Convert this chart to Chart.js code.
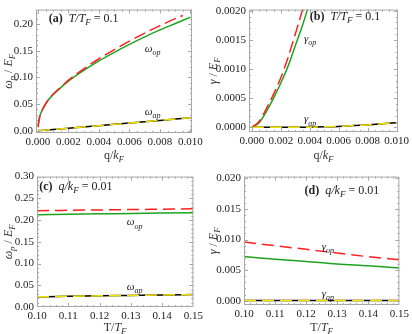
<!DOCTYPE html>
<html><head><meta charset="utf-8">
<script src="https://cdn.jsdelivr.net/npm/chart.js@4"></script>
<style>
html,body{margin:0;padding:0;background:#fff;width:412px;height:334px;overflow:hidden}
canvas{position:absolute}
</style></head><body>
<canvas id="ca" width="206" height="167" style="left:0;top:0"></canvas>
<canvas id="cb" width="206" height="167" style="left:206px;top:0"></canvas>
<canvas id="cc" width="206" height="167" style="left:0;top:167px"></canvas>
<canvas id="cd" width="206" height="167" style="left:206px;top:167px"></canvas>
<script>
// ---------- data ----------
// panel (a): omega_p/E_F vs q/k_F, T/T_F = 0.1
const qA        = [0, 0.0001, 0.0003, 0.0006, 0.001, 0.0015, 0.002, 0.003, 0.004, 0.005, 0.006, 0.007, 0.008, 0.009, 0.010];
const omegaOpA  = [0.007, 0.025, 0.040, 0.055, 0.068, 0.081, 0.093, 0.113, 0.131, 0.147, 0.162, 0.176, 0.189, 0.201, 0.213];
const qARed     = [0, 0.0001, 0.0003, 0.0006, 0.001, 0.0015, 0.002, 0.003, 0.004, 0.005, 0.006, 0.007, 0.008, 0.009, 0.0095];
const omegaOpARed = [0.007, 0.025, 0.040, 0.055, 0.069, 0.082, 0.095, 0.116, 0.135, 0.152, 0.168, 0.183, 0.197, 0.210, 0.216];
const qAAp      = [0, 0.002, 0.004, 0.006, 0.008, 0.010];
const omegaApA  = [0.0000, 0.0049, 0.0098, 0.0147, 0.0196, 0.0245];
// panel (b): gamma/E_F vs q/k_F, T/T_F = 0.1
const qB        = [0, 0.0005, 0.001, 0.0015, 0.002, 0.0025, 0.003, 0.0035, 0.004];
const gammaOpB  = [0, 0.00008, 0.00027, 0.0005, 0.00076, 0.00105, 0.0014, 0.00175, 0.00215];
const gammaOpBRed = [0, 0.0001, 0.00032, 0.00057, 0.00085, 0.0012, 0.0016, 0.00202, 0.0025];
const qBAp      = [0, 0.002, 0.004, 0.005, 0.006, 0.007, 0.008, 0.009, 0.010];
const gammaApB  = [0, 0, 0.000003, 0.000008, 0.000016, 0.00003, 0.000042, 0.00006, 0.00008];
// panels (c),(d): vs T/T_F, q/k_F = 0.01
const tT        = [0.10, 0.11, 0.12, 0.13, 0.14, 0.15];
const omegaOpC    = [0.2125, 0.2134, 0.2143, 0.2152, 0.2161, 0.2170];
const omegaOpCRed = [0.2215, 0.2224, 0.2233, 0.2242, 0.2250, 0.2258];
const omegaApC    = [0.0235, 0.0245, 0.0256, 0.0266, 0.0276, 0.0287];
const gammaOpD    = [0.00722, 0.0068, 0.00643, 0.0060, 0.0057, 0.00534];
const gammaOpDRed = [0.0096, 0.0090, 0.0084, 0.0078, 0.0072, 0.0067];
const gammaApD    = [0.00005, 0.00005, 0.00005, 0.00005, 0.00005, 0.00005];
// tick labels
const qTicks      = [0, 0.002, 0.004, 0.006, 0.008, 0.010];
const omegaTicksA = [0, 0.05, 0.10, 0.15, 0.20];
const gammaTicksB = [0, 0.0005, 0.0010, 0.0015, 0.0020];
const tTicks      = [0.10, 0.11, 0.12, 0.13, 0.14, 0.15];
const omegaTicksC = [0, 0.05, 0.10, 0.15, 0.20, 0.25, 0.30];
const gammaTicksD = [0, 0.005, 0.010, 0.015, 0.020];

// ---------- styling helpers ----------
const SERIF = '"Liberation Serif","DejaVu Serif",serif';
const GREEN = '#1fa31f', RED = '#ff1f1f', YELLOW = '#f2e200', BLACK = '#000000';
const pts = (xs, ys) => xs.map((x, i) => ({x, y: ys[i]}));

function fontFor(s, size) {
  if (s === 'b') return `bold ${size}px ${SERIF}`;
  if (s === 'i') return `italic ${size}px ${SERIF}`;
  if (s === 's') return `italic ${Math.round(size * 0.72)}px ${SERIF}`;
  return `${size}px ${SERIF}`;
}
function drawRich(ctx, parts, x, y, size, align) {
  let w = 0; const segs = [];
  for (const [t, s] of parts) {
    ctx.font = fontFor(s, size);
    const m = ctx.measureText(t).width;
    segs.push({t, f: ctx.font, m, dy: s === 's' ? size * 0.28 : 0});
    w += m;
  }
  let cx = align === 'center' ? x - w / 2 : (align === 'right' ? x - w : x);
  ctx.textAlign = 'left'; ctx.textBaseline = 'alphabetic';
  const base = y + size * 0.33;
  for (const g of segs) { ctx.font = g.f; ctx.fillText(g.t, cx, base + g.dy); cx += g.m; }
}

const framePlugin = {
  id: 'frame',
  afterDatasetsDraw(chart) {
    const o = chart.options.plugins.frame;
    const {ctx, chartArea: a, scales: {x, y}} = chart;
    ctx.save();
    ctx.strokeStyle = '#a8a8a8'; ctx.lineWidth = 1;
    ctx.strokeRect(a.left + 0.5, a.top + 0.5, a.right - a.left - 1, a.bottom - a.top - 1);
    ctx.beginPath();
    const xt = (v, len) => {
      const p = Math.round(x.getPixelForValue(v)) + 0.5;
      if (p < a.left || p > a.right) return;
      ctx.moveTo(p, a.bottom); ctx.lineTo(p, a.bottom - len);
      ctx.moveTo(p, a.top); ctx.lineTo(p, a.top + len);
    };
    const yt = (v, len) => {
      const p = Math.round(y.getPixelForValue(v)) + 0.5;
      if (p < a.top || p > a.bottom) return;
      ctx.moveTo(a.left, p); ctx.lineTo(a.left + len, p);
      ctx.moveTo(a.right, p); ctx.lineTo(a.right - len, p);
    };
    const xs = o.xticks, ys = o.yticks;
    const dx = (xs[1] - xs[0]) / o.xsub, dy = (ys[1] - ys[0]) / o.ysub;
    for (let i = -o.xsub; i <= (xs.length - 1) * o.xsub + o.xsub; i++) {
      const v = xs[0] + i * dx;
      xt(v, i % o.xsub === 0 ? 4 : 2);
    }
    for (let i = -o.ysub; i <= (ys.length - 1) * o.ysub + o.ysub; i++) {
      const v = ys[0] + i * dy;
      yt(v, i % o.ysub === 0 ? 4 : 2);
    }
    ctx.stroke();
    // annotations
    ctx.fillStyle = '#222';
    for (const L of o.labels) {
      drawRich(ctx, L.parts, x.getPixelForValue(L.x), y.getPixelForValue(L.y), L.size || 11, L.align || 'left');
    }
    // axis titles
    ctx.fillStyle = '#333';
    drawRich(ctx, o.xtitle, (a.left + a.right) / 2, o.xtitleY, 12, 'center');
    ctx.save();
    ctx.translate(o.ytitleX, (a.top + a.bottom) / 2);
    ctx.rotate(-Math.PI / 2);
    drawRich(ctx, o.ytitle, 0, 0, 12, 'center');
    ctx.restore();
    ctx.restore();
  }
};

function makeChart(id, c) {
  const tickFont = {family: SERIF, size: 11};
  return new Chart(document.getElementById(id), {
    type: 'line',
    data: {datasets: c.datasets},
    options: {
      responsive: false, animation: false, devicePixelRatio: 1,
      layout: {padding: {top: c.padTop, right: c.padRight, left: 0, bottom: 0}},
      elements: {point: {radius: 0}, line: {borderWidth: 1.5, cubicInterpolationMode: 'monotone'}},
      plugins: {legend: {display: false}, tooltip: {enabled: false},
        frame: {xticks: c.xticks, yticks: c.yticks, xsub: c.xsub, ysub: c.ysub, labels: c.labels,
                xtitle: c.xtitle, ytitle: c.ytitle, xtitleY: c.xtitleY, ytitleX: c.ytitleX}},
      scales: {
        x: {type: 'linear', min: c.xmin, max: c.xmax,
            afterFit: s => { s.height = c.xh; },
            afterBuildTicks: s => { s.ticks = c.xticks.map(v => ({value: v})); },
            ticks: {callback: v => v.toFixed(c.xdec), font: tickFont, color: '#222', padding: 3, maxRotation: 0, autoSkip: false},
            grid: {display: false, drawTicks: false}, border: {display: false}},
        y: {type: 'linear', min: c.ymin, max: c.ymax,
            afterFit: s => { s.width = c.yw; },
            afterBuildTicks: s => { s.ticks = c.yticks.map(v => ({value: v})); },
            ticks: {callback: v => v.toFixed(c.ydec), font: tickFont, color: '#222', padding: 3, autoSkip: false},
            grid: {display: false, drawTicks: false}, border: {display: false}}
      }
    },
    plugins: [framePlugin]
  });
}

const sub = (t) => [t, 's'];
const it = (t) => [t, 'i'];
const rm = (t) => [t, 'r'];
const bd = (t) => [t, 'b'];
const qTitle = [rm('q/'), it('k'), sub('F')];
const tTitle = [rm('T/'), it('T'), sub('F')];
const omegaTitle = [it('ω'), sub('p'), rm(' / '), it('E'), sub('F')];
const gammaTitle = [it('γ'), rm(' / '), it('E'), sub('F')];

// (a)
makeChart('ca', {
  padTop: 2, padRight: 13, xh: 34, yw: 36,
  xmin: -0.00013, xmax: 0.0101, ymin: -0.004, ymax: 0.227,
  xticks: qTicks, yticks: omegaTicksA, xdec: 3, ydec: 2, xsub: 4, ysub: 5,
  xtitleY: 155, ytitleX: 8, xtitle: qTitle, ytitle: omegaTitle,
  labels: [
    {x: 0.0007, y: 0.212, size: 12, parts: [bd('(a)'), rm('  '), it('T/T'), sub('F'), rm(' = 0.1')]},
    {x: 0.0070, y: 0.155, parts: [it('ω'), sub('op')]},
    {x: 0.0070, y: 0.037, parts: [it('ω'), sub('ap')]}
  ],
  datasets: [
    {data: pts(qAAp, omegaApA), borderColor: YELLOW, borderDash: [12, 6]},
    {data: pts(qAAp, omegaApA), borderColor: BLACK},
    {data: pts(qARed, omegaOpARed), borderColor: RED, borderDash: [12, 5]},
    {data: pts(qA, omegaOpA), borderColor: GREEN}
  ]
});
// (b)
makeChart('cb', {
  padTop: 2, padRight: 8, xh: 35, yw: 43,
  xmin: -0.0002, xmax: 0.0101, ymin: -0.00008, ymax: 0.00202,
  xticks: qTicks, yticks: gammaTicksB, xdec: 3, ydec: 4, xsub: 4, ysub: 5,
  xtitleY: 155, ytitleX: 7, xtitle: qTitle, ytitle: gammaTitle,
  labels: [
    {x: 0.0040, y: 0.00191, size: 12, parts: [bd('(b)'), rm('  '), it('T/T'), sub('F'), rm(' = 0.1')]},
    {x: 0.0036, y: 0.00152, parts: [it('γ'), sub('op')]},
    {x: 0.0036, y: 0.000146, parts: [it('γ'), sub('ap')]}
  ],
  datasets: [
    {data: pts(qBAp, gammaApB), borderColor: YELLOW, borderDash: [12, 6]},
    {data: pts(qBAp, gammaApB), borderColor: BLACK},
    {data: pts(qB, gammaOpBRed), borderColor: RED, borderDash: [12, 5]},
    {data: pts(qB, gammaOpB), borderColor: GREEN}
  ]
});
// (c)
makeChart('cc', {
  padTop: 4, padRight: 12, xh: 27, yw: 37,
  xmin: 0.10, xmax: 0.15, ymin: 0, ymax: 0.30,
  xticks: tTicks, yticks: omegaTicksC, xdec: 2, ydec: 2, xsub: 5, ysub: 5,
  xtitleY: 160, ytitleX: 8, xtitle: tTitle, ytitle: omegaTitle,
  labels: [
    {x: 0.1007, y: 0.278, size: 12, parts: [bd('(c)'), rm('  '), it('q/k'), sub('F'), rm(' = 0.01')]},
    {x: 0.1287, y: 0.196, parts: [it('ω'), sub('op')]},
    {x: 0.1287, y: 0.048, parts: [it('ω'), sub('ap')]}
  ],
  datasets: [
    {data: pts(tT, omegaApC), borderColor: YELLOW, borderDash: [12, 6]},
    {data: pts(tT, omegaApC), borderColor: BLACK},
    {data: pts(tT, omegaOpCRed), borderColor: RED, borderDash: [12, 6]},
    {data: pts(tT, omegaOpC), borderColor: GREEN}
  ]
});
// (d)
makeChart('cd', {
  padTop: 4, padRight: 8, xh: 29, yw: 38,
  xmin: 0.10, xmax: 0.15, ymin: -0.0007, ymax: 0.0203,
  xticks: tTicks, yticks: gammaTicksD, xdec: 2, ydec: 3, xsub: 5, ysub: 5,
  xtitleY: 160, ytitleX: 7, xtitle: tTitle, ytitle: gammaTitle,
  labels: [
    {x: 0.1195, y: 0.0181, size: 12, parts: [bd('(d)'), rm('  '), it('q/k'), sub('F'), rm(' = 0.01')]},
    {x: 0.125, y: 0.0089, parts: [it('γ'), sub('op')]},
    {x: 0.125, y: 0.0012, parts: [it('γ'), sub('ap')]}
  ],
  datasets: [
    {data: pts(tT, gammaApD), borderColor: YELLOW, borderDash: [12, 6]},
    {data: pts(tT, gammaApD), borderColor: BLACK},
    {data: pts(tT, gammaOpDRed), borderColor: RED, borderDash: [12, 6]},
    {data: pts(tT, gammaOpD), borderColor: GREEN}
  ]
});
</script>
</body></html>
